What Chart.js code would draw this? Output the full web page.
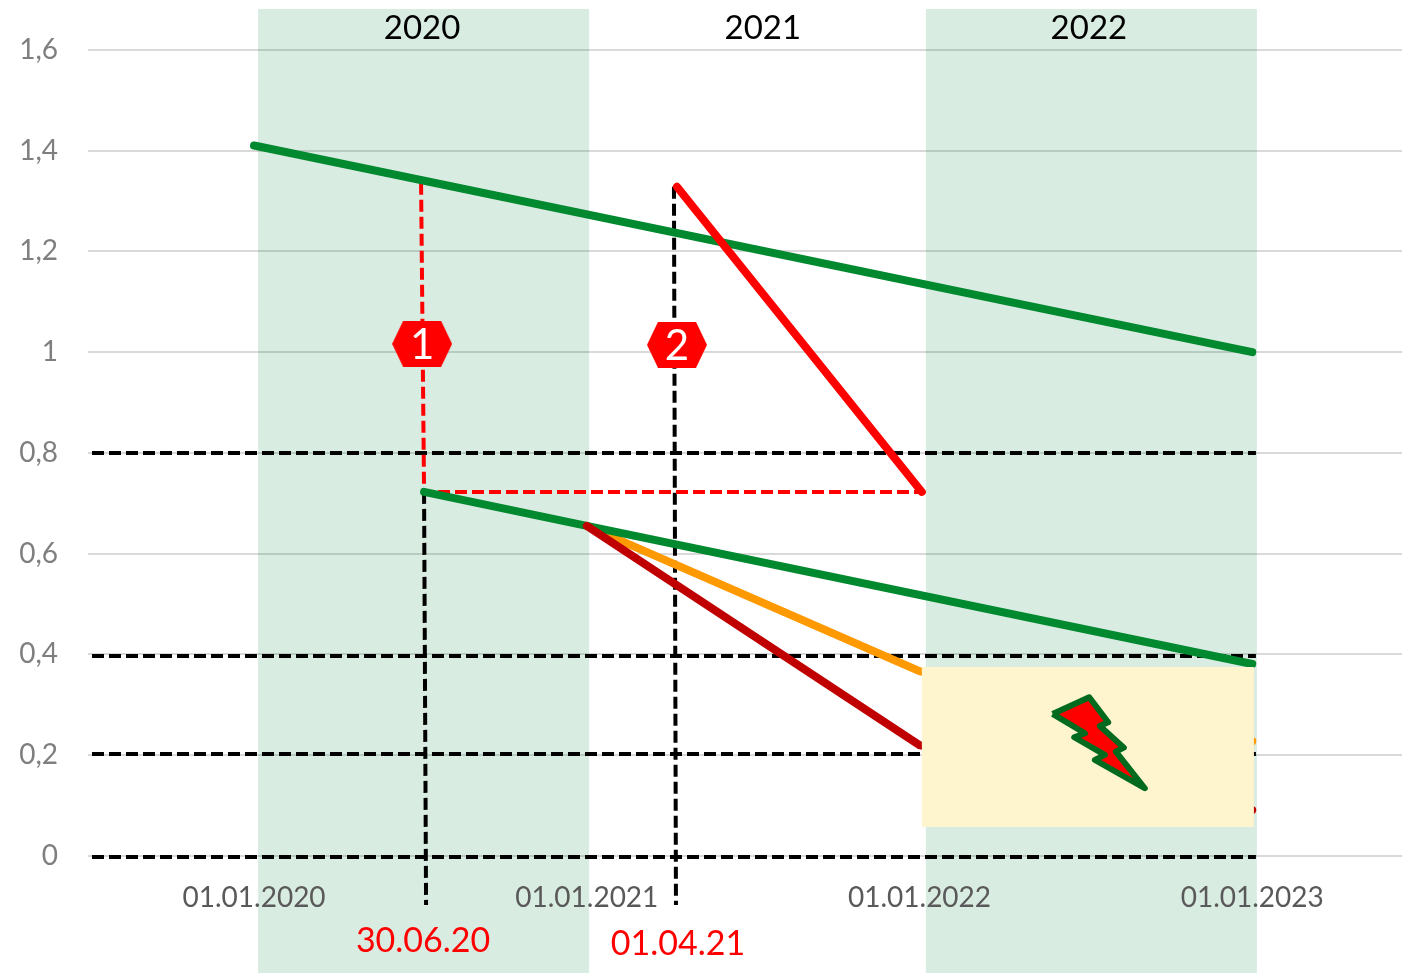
<!DOCTYPE html>
<html>
<head>
<meta charset="utf-8">
<title>Chart</title>
<script src="https://cdn.jsdelivr.net/npm/chart.js@4/dist/chart.umd.js"></script>
<style>
  html, body { margin: 0; padding: 0; background: #fff; }
  canvas { display: block; }
</style>
</head>
<body>
<canvas id="chart" width="1402" height="973"></canvas>
<script>
// axis ticks
const xTickValues = [2020, 2021, 2022, 2023];
const xTickLabels = ['01.01.2020', '01.01.2021', '01.01.2022', '01.01.2023'];
const yTickValues = [0, 0.2, 0.4, 0.6, 0.8, 1, 1.2, 1.4, 1.6];
const yTickLabels = ['0', '0,2', '0,4', '0,6', '0,8', '1', '1,2', '1,4', '1,6'];

// shaded years (x in fractional years, y is top and bottom of the picture)
const band2020X = [2020.012, 2021.007];
const band2022X = [2022.019, 2023.014];
const bandY = [1.681, -0.2323];

// series
const greenUpperX = [2020, 2023];
const greenUpperY = [1.41, 1.0];
const greenLowerX = [2020.511, 2021, 2023];
const greenLowerY = [0.7226, 0.655, 0.381];
const orangeX = [2021, 2022, 2023];
const orangeY = [0.655, 0.367, 0.228];
const darkRedX = [2021, 2022, 2023];
const darkRedY = [0.655, 0.22, 0.091];
const redX = [2021.271, 2022.007];
const redY = [1.328, 0.7226];

// red dashed construction line
const redDashX = [2020.502, 2020.511, 2022.007];
const redDashY = [1.336, 0.7226, 0.7226];

// black dashed guides
const guideHorizX = [2019.513, 2023.011];
const guideHorizY = [0.8, 0.397, 0.2025, -0.002];
const guideVert1X = [2020.511, 2020.517];
const guideVert1Y = [0.7226, -0.0973];
const guideVert2X = [2021.262, 2021.268];
const guideVert2Y = [1.328, -0.0973];

// yellow box and lightning bolt
const boxX = [2022.007, 2023.005];
const boxY = [0.3752, 0.0576];
const boltX = [2022.4, 2022.51, 2022.567, 2022.542, 2022.614, 2022.59, 2022.677, 2022.527, 2022.557, 2022.465, 2022.497, 2022.4];
const boltY = [0.2819, 0.315, 0.2654, 0.2581, 0.215, 0.207, 0.1344, 0.1906, 0.2005, 0.2356, 0.2436, 0.2819];

// numbered markers
const markerX = [2020.505, 2021.271];
const markerY = [1.0164, 1.0144];
const markerLabels = ['1', '2'];
const markerLabelY = [1.0124, 1.0104];

// free text
const yearLabels = ['2020', '2021', '2022'];
const yearX = [2020.505, 2021.529, 2022.509];
const yearY = [1.642, 1.642, 1.642];
const dateLabels = ['30.06.20', '01.04.21'];
const dateX = [2020.508, 2021.274];
const dateY = [-0.169, -0.175];

const FONT = 'Lato, "Open Sans", sans-serif';

function pts(xs, ys) {
  return xs.map((x, i) => ({ x, y: ys[i] }));
}

function rectPts(xs, ys) {
  return [
    { x: xs[0], y: ys[0] }, { x: xs[1], y: ys[0] },
    { x: xs[1], y: ys[1] }, { x: xs[0], y: ys[1] },
    { x: xs[0], y: ys[0] }
  ];
}

function hexagon() {
  const c = document.createElement('canvas');
  c.width = 60;
  c.height = 46;
  const g = c.getContext('2d');
  g.fillStyle = '#ff0000';
  g.beginPath();
  g.moveTo(0, 23);
  g.lineTo(11, 0);
  g.lineTo(49, 0);
  g.lineTo(60, 23);
  g.lineTo(49, 46);
  g.lineTo(11, 46);
  g.closePath();
  g.fill();
  return c;
}

function area(data, color) {
  return { data, showLine: true, fill: 'shape', backgroundColor: color, borderWidth: 0, pointRadius: 0 };
}

function line(data, color, width) {
  return { data, showLine: true, borderColor: color, borderWidth: width, borderCapStyle: 'round', pointRadius: 0, tension: 0 };
}

function dashed(data, color, width, dash) {
  return { ...line(data, color, width), borderDash: dash, borderCapStyle: 'butt' };
}

const textPlugin = {
  id: 'freeText',
  afterDatasetsDraw(chart) {
    const { ctx, scales: { x, y } } = chart;
    const put = (labels, xs, ys, font, color) => {
      ctx.font = font;
      ctx.fillStyle = color;
      labels.forEach((t, i) => ctx.fillText(t, x.getPixelForValue(xs[i]), y.getPixelForValue(ys[i])));
    };
    ctx.save();
    ctx.textAlign = 'center';
    ctx.textBaseline = 'middle';
    put(yearLabels, yearX, yearY, `33px ${FONT}`, '#000000');
    put(dateLabels, dateX, dateY, `34px ${FONT}`, '#ff0000');
    put(markerLabels, markerX, markerLabelY, `42px ${FONT}`, '#ffffff');
    ctx.restore();
  }
};

// listed back to front; chart.js paints the first dataset last, hence the reverse
const datasets = [
  area(rectPts(band2020X, bandY), 'rgba(0,128,60,0.15)'),
  area(rectPts(band2022X, bandY), 'rgba(0,128,60,0.15)'),
  ...guideHorizY.map(v => dashed(pts(guideHorizX, [v, v]), '#000000', 4, [12, 5])),
  dashed(pts(guideVert1X, guideVert1Y), '#000000', 4, [12, 5]),
  dashed(pts(guideVert2X, guideVert2Y), '#000000', 4, [12, 5]),
  dashed(pts(redDashX, redDashY), '#ff0000', 4, [12, 5]),
  line(pts(orangeX, orangeY), '#ff9900', 8),
  line(pts(greenUpperX, greenUpperY), '#00892f', 8),
  line(pts(greenLowerX, greenLowerY), '#00892f', 8),
  line(pts(darkRedX, darkRedY), '#c00000', 8),
  line(pts(redX, redY), '#ff0000', 8),
  area(rectPts(boxX, boxY), '#fef4cd'),
  { ...area(pts(boltX, boltY), '#ff0000'), borderColor: '#006b1e', borderWidth: 6, borderJoinStyle: 'round' },
  { data: pts(markerX, markerY), showLine: false, pointStyle: hexagon(), pointRadius: 30 }
].reverse();

new Chart(document.getElementById('chart'), {
  type: 'scatter',
  data: { datasets },
  plugins: [textPlugin],
  options: {
    responsive: false,
    animation: false,
    layout: { padding: { top: 9 }, autoPadding: false },
    plugins: { legend: { display: false }, tooltip: { enabled: false } },
    scales: {
      x: {
        type: 'linear',
        position: { y: 0 },
        min: 2019.501,
        max: 2023.45,
        afterBuildTicks: (axis) => { axis.ticks = xTickValues.map(value => ({ value })); },
        afterFit: (axis) => { axis.paddingLeft = 0; axis.paddingRight = 0; },
        grid: { display: false },
        border: { display: false },
        ticks: {
          z: 1,
          autoSkip: false,
          maxRotation: 0,
          padding: 17,
          color: '#595959',
          font: { family: FONT, size: 28 },
          callback: (v, i) => xTickLabels[i]
        }
      },
      y: {
        type: 'linear',
        min: -0.2323,
        max: 1.681,
        afterBuildTicks: (axis) => { axis.ticks = yTickValues.map(value => ({ value })); },
        afterFit: (axis) => { axis.width = 88; axis.paddingTop = 0; axis.paddingBottom = 0; },
        grid: { color: '#d9d9d9', lineWidth: 2, tickLength: 0 },
        border: { display: false },
        ticks: {
          padding: 30,
          color: '#7f7f7f',
          font: { family: FONT, size: 28 },
          callback: (v, i) => yTickLabels[i]
        }
      }
    }
  }
});
</script>
</body>
</html>
